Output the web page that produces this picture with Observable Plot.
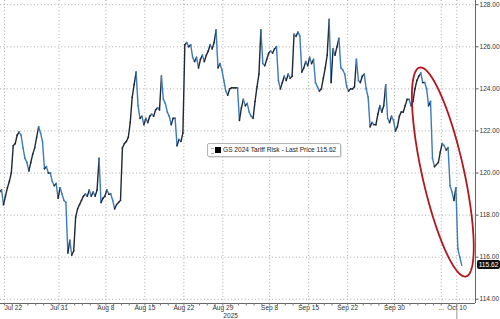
<!DOCTYPE html>
<html>
<head>
<meta charset="utf-8">
<script src="https://cdn.jsdelivr.net/npm/d3@7"></script>
<script src="https://cdn.jsdelivr.net/npm/@observablehq/plot@0.6"></script>
<style>
  html, body { margin: 0; padding: 0; background: #fff; overflow: hidden; }
  #wrap { position: relative; width: 500px; height: 319px; overflow: hidden; font-family: "Liberation Sans", Arial, sans-serif; }
  #legend { position: absolute; left: 207px; top: 143px; width: 132px; height: 12px; border: 1px solid #b5b5b5; border-radius: 2px; background: #fff; box-shadow: 1px 1px 1px rgba(0,0,0,0.12); font-size: 6.6px; color: #222; white-space: nowrap; }
  #legend .ic { position: absolute; left: 3px; top: 4px; width: 3px; height: 4px; border-top: 1px solid #aaa; border-bottom: 1px solid #aaa; }
  #legend .sq { position: absolute; left: 7px; top: 3px; width: 6px; height: 6px; background: #000; }
  #legend .tx { position: absolute; left: 15px; top: 2px; line-height: 8px; }
  #last { position: absolute; left: 477px; width: 23px; height: 9px; background: #111; color: #fff; border-radius: 2px; font-size: 6.6px; line-height: 9px; text-align: center; }
</style>
</head>
<body>
<div id="wrap"></div>
<script>
// ---- data ----
const dates = [
  "Jul 21","Jul 22","Jul 23","Jul 24","Jul 25","Jul 28","Jul 29","Jul 30","Jul 31",
  "Aug 1","Aug 4","Aug 5","Aug 6","Aug 7","Aug 8","Aug 11","Aug 12","Aug 13","Aug 14","Aug 15",
  "Aug 18","Aug 19","Aug 20","Aug 21","Aug 22","Aug 25","Aug 26","Aug 27","Aug 28","Aug 29",
  "Sep 1","Sep 2","Sep 3","Sep 4","Sep 5","Sep 8","Sep 9","Sep 10","Sep 11","Sep 12",
  "Sep 15","Sep 16","Sep 17","Sep 18","Sep 19","Sep 22","Sep 23","Sep 24","Sep 25","Sep 26",
  "Sep 29","Sep 30","Oct 1","Oct 2","Oct 3","Oct 6","Oct 7","Oct 8","Oct 9","Oct 10"
];
// intraday readings per trading day
const intraday = [
  [119.0,119.1,119.2,118.5],
  [118.9,119.3,119.6,120.0],
  [121.3,121.4,121.8,121.95],
  [121.8,121.2,120.7,120.5],
  [120.1,120.5,120.9,121.2],
  [121.7,122.2,121.9,121.5],
  [120.2,120.3,120.0,120.0],
  [119.6,119.4,119.5,118.8],
  [119.3,119.0,118.7,118.6],
  [116.2,116.8,116.1,116.3],
  [117.9,118.3,118.5,118.7],
  [118.9,119.0,118.9,119.2],
  [118.9,119.1,118.9,119.2],
  [120.7,118.6,118.8,118.9],
  [119.2,119.0,119.0,118.7],
  [118.3,118.5,118.6,118.7],
  [121.2,121.4,121.5,121.7],
  [122.4,123.6,124.2,124.8],
  [123.2,122.6,122.7,122.3],
  [122.6,122.4,122.7,122.8],
  [122.7,123.0,123.1,123.0],
  [124.6,123.5,123.3,122.9],
  [122.7,122.3,122.6,122.6],
  [121.3,121.6,121.5,121.9],
  [126.1,126.2,126.0,126.1],
  [125.5,125.3,125.5,125.0],
  [125.4,125.6,125.3,125.6],
  [125.8,126.1,125.9,126.2],
  [126.8,125.0,125.2,124.9],
  [124.4,123.9,123.7,124.0],
  [124.05,124.05,124.05,124.05],
  [122.5,123.1,123.5,123.2],
  [123.3,122.9,122.7,122.6],
  [123.4,124.1,124.7,126.8],
  [125.2,125.1,125.4,125.7],
  [125.8,125.7,125.9,126.0],
  [124.4,124.0,124.3,124.6],
  [124.4,124.7,124.5,124.6],
  [126.6,126.5,126.7,126.5],
  [124.8,125.0,125.3,125.1],
  [125.5,125.2,125.4,124.3],
  [124.1,123.9,124.0,124.5],
  [125.0,125.6,127.3,124.3],
  [125.9,125.6,126.0,126.4],
  [125.0,124.9,124.7,124.1],
  [123.9,124.0,124.0,124.1],
  [125.4,124.4,124.3,124.6],
  [124.7,124.0,123.6,122.2],
  [122.4,122.3,122.3,122.8],
  [123.2,122.9,123.2,124.2],
  [122.6,122.4,122.7,122.5],
  [122.0,122.2,122.7,122.9],
  [122.9,123.2,123.5,123.5],
  [123.2,123.4,124.0,124.4],
  [124.6,124.75,124.3,124.3],
  [124.0,123.2,123.4,120.7],
  [120.3,120.4,120.5,121.0],
  [121.4,121.3,121.1,121.2],
  [119.4,119.1,118.7,119.3],
  [116.4,116.0,115.62]
];
const tickDates  = ["Jul 22","Jul 31","Aug 8","Aug 15","Aug 22","Aug 29","Sep 8","Sep 15","Sep 22","Sep 30","Oct 8","Oct 10"];
const tickLabels = ["Jul 22","Jul 31","Aug 8","Aug 15","Aug 22","Aug 29","Sep 8","Sep 15","Sep 22","Sep 30","...","Oct 10"];
const yTicks = [114,116,118,120,122,124,126,128];
const yearDate = "Sep 1", yearLabel = "2025";
const seriesName = "GS 2024 Tariff Risk";
const lastPrice = 115.62;

// ---- layout ----
const W = 500, H = 319, mR = 25, mB = 16;
const xDomain = [0.49, 61.39], yDomain = [113.8, 128.2];
const kx = (W - mR) / (xDomain[1] - xDomain[0]);
const ky = (H - mB) / (yDomain[1] - yDomain[0]);

const idx = new Map(dates.map((d, i) => [d, i]));
const pts = [];
intraday.forEach((vals, i) => vals.forEach((v, k) => pts.push({t: i + (k + 0.5) / 4, v})));
const segs = pts.slice(1).map((p, j) => ({t1: pts[j].t, v1: pts[j].v, t2: p.t, v2: p.v, down: p.v < pts[j].v}));

const tickIdx = tickDates.map(d => idx.get(d));
const labelOf = new Map(tickIdx.map((t, i) => [t, tickLabels[i]]));
const dayIdx = dates.map((d, i) => i);

// annotation ellipse (pixel radii, tilted)
const ring = {t: 57.2, v: 120.05, a: 107, b: 21, tilt: 12.5};
const rr = ring.tilt * Math.PI / 180, ux = Math.sin(rr), uy = Math.cos(rr);
const ringPts = d3.range(0, 145).map(i => {
  const th = i / 144 * 2 * Math.PI;
  const px = ring.a * Math.cos(th) * ux + ring.b * Math.sin(th) * uy;
  const py = ring.a * Math.cos(th) * uy - ring.b * Math.sin(th) * ux;
  return {t: ring.t + px / kx, v: ring.v - py / ky};
});

const grid = {stroke: "#a8a8a8", strokeOpacity: 1, strokeDasharray: "1,2.4", strokeWidth: 1};
const fs = 6.6;

const plot = Plot.plot({
  width: W, height: H,
  marginLeft: 0, marginRight: mR, marginTop: 0, marginBottom: mB,
  style: {fontFamily: "Liberation Sans, Arial, sans-serif", fontSize: fs + "px", color: "#333", background: "#fff"},
  x: {type: "linear", domain: xDomain},
  y: {type: "linear", domain: yDomain},
  marks: [
    Plot.gridY(yTicks, grid),
    Plot.gridX(tickIdx, grid),
    Plot.link(segs, {x1: "t1", y1: "v1", x2: "t2", y2: "v2",
      stroke: d => d.down ? "#3b7bbd" : "#1f2833", strokeWidth: 1.4, strokeLinecap: "square"}),
    Plot.line(ringPts, {x: "t", y: "v", stroke: "#b3171d", strokeWidth: 1.8}),
    Plot.ruleX([xDomain[1]], {stroke: "#666", strokeWidth: 1}),
    Plot.ruleY([yDomain[0]], {stroke: "#666", strokeWidth: 1}),
    Plot.axisY(yTicks, {anchor: "right", tickFormat: d => d.toFixed(2), tickSize: 2.5, tickPadding: 1.5, fontSize: fs, stroke: "#555"}),
    Plot.axisX(dayIdx, {anchor: "bottom", tickSize: 2.5, tickFormat: () => "", stroke: "#777"}),
    Plot.axisX(tickIdx.slice(1), {anchor: "bottom", tickSize: 0, tickPadding: 2, tickFormat: d => labelOf.get(d), fontSize: fs}),
    Plot.axisX(tickIdx.slice(0, 1), {anchor: "bottom", tickSize: 0, tickPadding: 2, tickFormat: d => labelOf.get(d), textAnchor: "start", fontSize: fs}),
    Plot.axisX([idx.get(yearDate)], {anchor: "bottom", tickSize: 0, tickPadding: 9.5, tickFormat: () => yearLabel, fontSize: fs}),
    Plot.axisX([idx.get(dates[dates.length - 1])], {anchor: "bottom", tickSize: 16, tickFormat: () => "", stroke: "#999"})
  ]
});

const wrap = document.getElementById("wrap");
wrap.appendChild(plot);

const legend = document.createElement("div");
legend.id = "legend";
legend.innerHTML = `<span class="ic"></span><span class="sq"></span><span class="tx">${seriesName} - Last Price ${lastPrice.toFixed(2)}</span>`;
wrap.appendChild(legend);

const tag = document.createElement("div");
tag.id = "last";
tag.textContent = lastPrice.toFixed(2);
tag.style.top = (plot.scale("y").apply(lastPrice) - 4.5) + "px";
wrap.appendChild(tag);
</script>
</body>
</html>
